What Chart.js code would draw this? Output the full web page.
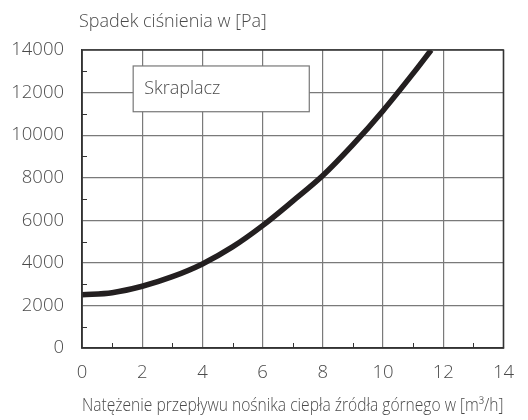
<!DOCTYPE html>
<html>
<head>
<meta charset="utf-8">
<script src="https://cdn.jsdelivr.net/npm/chart.js@4/dist/chart.umd.min.js"></script>
<style>
  html, body { margin: 0; padding: 0; background: #fff; }
  #wrap { width: 528px; height: 420px; position: relative; }
</style>
</head>
<body>
<div id="wrap"><canvas id="chart"></canvas></div>
<script>
// dane
const flowRate = [0, 1, 2, 3, 4, 5, 6, 7, 8, 9, 10, 11, 11.6];
const pressureDrop = [2500, 2600, 2900, 3350, 3950, 4750, 5750, 6900, 8100, 9550, 11150, 12900, 14000];
const seriesName = "Skraplacz";
const yTitle = "Spadek ciśnienia w [Pa]";
const xTitle = "Natężenie przepływu nośnika ciepła źródła górnego w [m³/h]";

const textColor = "#4a4a4a";
const fontFamily = "'Open Sans', Roboto, sans-serif";

// tytuł osi Y (poziomy nad wykresem), ramka, krótkie kreski wewnętrzne
const decorPlugin = {
  id: "decor",
  beforeDatasetsDraw(chart) {
    const ctx = chart.ctx;
    const x = chart.scales.x, y = chart.scales.y;
    // pole z nazwą serii
    const l = x.getPixelForValue(1.7), r = x.getPixelForValue(7.55);
    const t = y.getPixelForValue(13250), b = y.getPixelForValue(11100);
    ctx.save();
    ctx.fillStyle = "#fff";
    ctx.fillRect(l, t, r - l, b - t);
    ctx.strokeStyle = "#777";
    ctx.lineWidth = 1.2;
    ctx.strokeRect(l, t, r - l, b - t);
    ctx.fillStyle = textColor;
    ctx.font = "300 18px " + fontFamily;
    ctx.textBaseline = "middle";
    ctx.fillText(seriesName, l + 11, (t + b) / 2);
    ctx.restore();
  },
  afterDraw(chart) {
    const ctx = chart.ctx;
    const area = chart.chartArea;
    const x = chart.scales.x, y = chart.scales.y;
    ctx.save();
    ctx.strokeStyle = "#333";
    ctx.lineWidth = 1;
    ctx.beginPath();
    for (let v = 1; v < 14; v += 2) {
      const px = Math.round(x.getPixelForValue(v)) + 0.5;
      ctx.moveTo(px, area.bottom);
      ctx.lineTo(px, area.bottom - 5);
    }
    for (let v = 1000; v < 14000; v += 2000) {
      const py = Math.round(y.getPixelForValue(v)) + 0.5;
      ctx.moveTo(area.left, py);
      ctx.lineTo(area.left + 5, py);
    }
    ctx.stroke();
    ctx.lineWidth = 1.5;
    ctx.strokeStyle = "#333";
    ctx.strokeRect(area.left, area.top, area.right - area.left, area.bottom - area.top);
    ctx.fillStyle = textColor;
    ctx.font = "300 18px " + fontFamily;
    ctx.textBaseline = "alphabetic";
    ctx.fillText(yTitle, area.left - 3, 27);
    ctx.restore();
  }
};

new Chart(document.getElementById("chart"), {
  type: "line",
  data: {
    datasets: [{
      label: seriesName,
      data: flowRate.map((v, i) => ({ x: v, y: pressureDrop[i] })),
      borderColor: "#231f20",
      borderWidth: 5.5,
      pointRadius: 0,
      cubicInterpolationMode: "monotone",
      fill: false
    }]
  },
  options: {
    responsive: true,
    maintainAspectRatio: false,
    animation: false,
    layout: { padding: { top: 50, right: 19, left: 0, bottom: 0 } },
    plugins: {
      legend: { display: false },
      tooltip: { enabled: false }
    },
    scales: {
      x: {
        type: "linear",
        min: 0,
        max: 14,
        afterFit(scale) { scale.height = 72; },
        grid: {
          drawTicks: false,
          lineWidth: 1.2,
          color: ctx => (ctx.tick && ctx.tick.value % 2 === 0) ? "#7a7a7a" : "transparent"
        },
        border: { display: true, color: "#333", width: 1.5 },
        ticks: {
          stepSize: 1,
          autoSkip: false,
          maxRotation: 0,
          padding: 14,
          color: textColor,
          font: { family: fontFamily, size: 18.5, weight: 300 },
          callback: v => v % 2 === 0 ? v : ""
        },
        title: {
          display: true,
          text: xTitle,
          color: textColor,
          font: { family: fontFamily, size: 17.5, weight: 300 },
          padding: { top: 0, bottom: 3 }
        }
      },
      y: {
        min: 0,
        max: 14000,
        afterFit(scale) { scale.width = 82; },
        grid: {
          drawTicks: false,
          lineWidth: 1.2,
          color: ctx => (ctx.tick && ctx.tick.value % 2000 === 0) ? "#7a7a7a" : "transparent"
        },
        border: { display: true, color: "#333", width: 1.5 },
        ticks: {
          stepSize: 1000,
          autoSkip: false,
          padding: 18,
          color: textColor,
          font: { family: fontFamily, size: 18.5, weight: 300 },
          callback: v => v % 2000 === 0 ? v : ""
        }
      }
    }
  },
  plugins: [decorPlugin]
});
</script>
</body>
</html>
